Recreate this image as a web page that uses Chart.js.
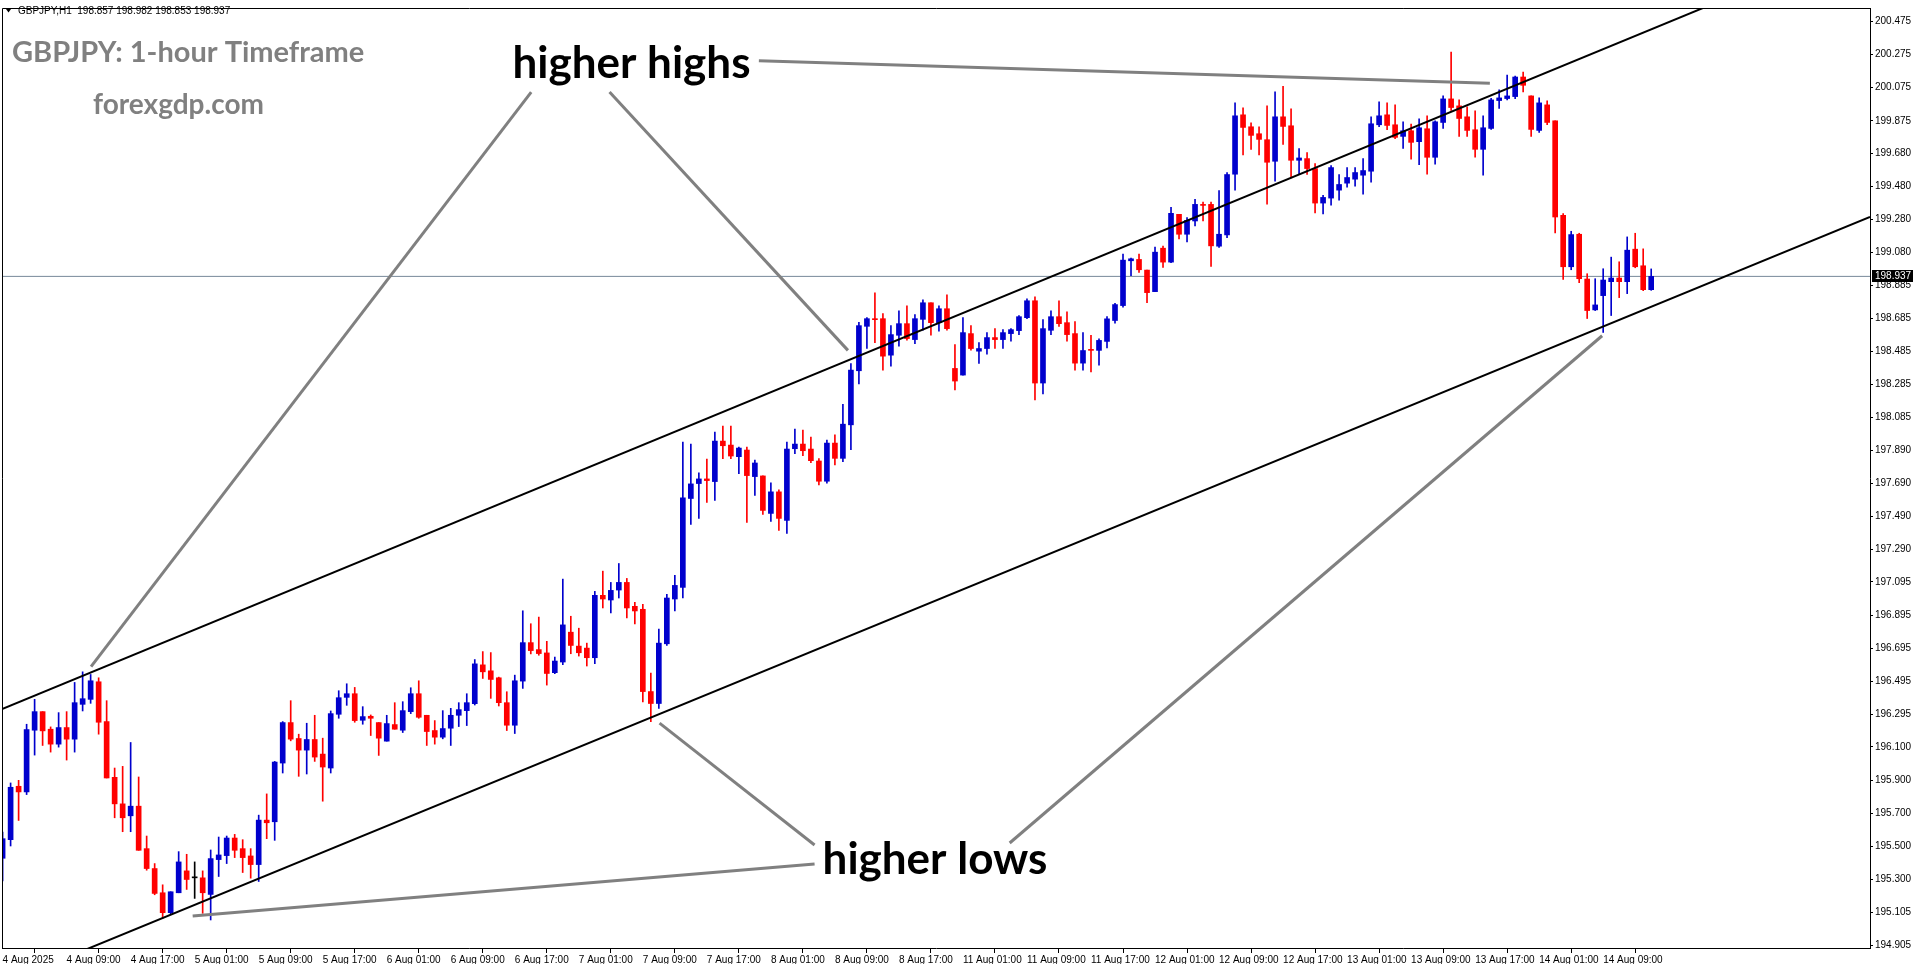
<!DOCTYPE html>
<html>
<head>
<meta charset="utf-8">
<title>GBPJPY H1</title>
<script src="https://cdn.jsdelivr.net/npm/chart.js@4.4.1/dist/chart.umd.min.js"></script>
<style>
  html, body { margin: 0; padding: 0; background: #fff; overflow: hidden; }
  canvas { display: block; }
</style>
</head>
<body>
<canvas id="chart" width="1916" height="964"></canvas>
<script>
// hourly candles, 4 Aug 2025 -> 14 Aug 2025
const opens = [
  195.429, 195.541, 195.863, 195.829, 196.201, 196.313, 196.207, 196.117, 196.217, 196.147,
  196.357, 196.387, 196.493, 196.253, 195.917, 195.757, 195.685, 195.743, 195.487, 195.367,
  195.221, 195.101, 195.221, 195.353, 195.311, 195.311, 195.211, 195.421, 195.445, 195.551,
  195.487, 195.443, 195.391, 195.659, 195.649, 196.003, 196.247, 196.151, 196.081, 196.145,
  196.057, 195.973, 196.297, 196.399, 196.421, 196.261, 196.285, 196.247, 196.135, 196.235,
  196.201, 196.313, 196.421, 196.291, 196.199, 196.159, 196.213, 196.291, 196.319, 196.361,
  196.595, 196.559, 196.517, 196.367, 196.231, 196.497, 196.729, 196.687, 196.667, 196.548,
  196.612, 196.792, 196.708, 196.696, 196.638, 197.014, 196.986, 197.046, 197.092, 196.948,
  196.930, 196.434, 196.362, 196.722, 196.992, 197.062, 197.598, 197.688, 197.716, 197.700,
  197.944, 197.920, 197.850, 197.890, 197.730, 197.734, 197.508, 197.638, 197.466, 197.898,
  197.926, 197.896, 197.824, 197.702, 197.932, 197.840, 198.042, 198.368, 198.636, 198.682,
  198.682, 198.462, 198.582, 198.652, 198.556, 198.678, 198.778, 198.658, 198.742, 198.382,
  198.342, 198.592, 198.486, 198.502, 198.568, 198.556, 198.592, 198.610, 198.688, 198.790,
  198.294, 198.612, 198.694, 198.658, 198.592, 198.414, 198.497, 198.491, 198.545, 198.671,
  198.761, 199.031, 199.039, 198.975, 198.845, 199.107, 199.023, 199.311, 199.191, 199.271,
  199.371, 199.371, 199.119, 199.187, 199.553, 199.911, 199.839, 199.797, 199.761, 199.631,
  199.899, 199.845, 199.637, 199.647, 199.587, 199.379, 199.409, 199.457, 199.499, 199.523,
  199.547, 199.571, 199.851, 199.911, 199.851, 199.781, 199.815, 199.749, 199.827, 199.655,
  199.865, 200.007, 199.965, 199.899, 199.821, 199.703, 199.829, 199.997, 200.009, 200.021,
  200.139, 200.025, 199.817, 199.971, 199.875, 199.305, 198.995, 199.191, 198.921, 198.735,
  198.821, 198.905, 198.927, 198.905, 199.101, 199.001, 198.857
];
const highs = [
  195.587, 195.883, 195.899, 196.237, 196.387, 196.313, 196.221, 196.307, 196.313, 196.489,
  196.553, 196.537, 196.517, 196.379, 195.973, 195.983, 196.127, 195.919, 195.563, 195.397,
  195.269, 195.227, 195.469, 195.453, 195.407, 195.353, 195.479, 195.557, 195.563, 195.573,
  195.541, 195.487, 195.689, 195.817, 196.013, 196.253, 196.379, 196.177, 196.243, 196.291,
  196.153, 196.317, 196.439, 196.481, 196.459, 196.343, 196.293, 196.247, 196.291, 196.367,
  196.373, 196.457, 196.499, 196.291, 196.259, 196.319, 196.333, 196.367, 196.421, 196.627,
  196.675, 196.669, 196.521, 196.433, 196.533, 196.921, 196.843, 196.883, 196.737, 196.642,
  197.112, 196.888, 196.816, 196.726, 197.038, 197.160, 197.092, 197.206, 197.116, 196.972,
  196.960, 196.546, 196.810, 197.020, 197.134, 197.938, 197.926, 197.752, 197.836, 197.998,
  198.034, 198.034, 197.908, 197.908, 197.830, 197.734, 197.692, 197.650, 197.938, 198.016,
  198.010, 197.968, 197.838, 197.950, 197.982, 198.166, 198.412, 198.660, 198.688, 198.838,
  198.712, 198.640, 198.730, 198.760, 198.706, 198.796, 198.778, 198.760, 198.826, 198.526,
  198.688, 198.640, 198.538, 198.598, 198.622, 198.616, 198.622, 198.700, 198.802, 198.814,
  198.676, 198.730, 198.790, 198.724, 198.664, 198.598, 198.581, 198.561, 198.695, 198.775,
  199.071, 199.047, 199.071, 198.975, 199.113, 199.119, 199.353, 199.311, 199.291, 199.401,
  199.385, 199.385, 199.455, 199.563, 199.983, 199.953, 199.863, 199.839, 199.965, 200.049,
  200.083, 199.947, 199.707, 199.683, 199.617, 199.425, 199.605, 199.551, 199.593, 199.593,
  199.647, 199.899, 199.989, 199.983, 199.971, 199.869, 199.855, 199.887, 199.905, 199.875,
  200.025, 200.289, 200.001, 199.959, 199.935, 199.905, 200.011, 200.061, 200.151, 200.145,
  200.169, 200.025, 200.013, 199.995, 199.875, 199.315, 199.209, 199.197, 198.953, 198.923,
  198.983, 199.053, 199.025, 199.175, 199.197, 199.103, 198.982
];
const lows = [
  195.293, 195.503, 195.657, 195.813, 196.051, 196.109, 196.069, 196.099, 196.021, 196.069,
  196.317, 196.363, 196.177, 195.913, 195.673, 195.589, 195.589, 195.477, 195.357, 195.209,
  195.067, 195.093, 195.221, 195.241, 195.187, 195.097, 195.057, 195.319, 195.397, 195.433,
  195.343, 195.309, 195.289, 195.547, 195.537, 195.943, 196.137, 195.923, 195.937, 196.013,
  195.773, 195.943, 196.273, 196.351, 196.249, 196.237, 196.169, 196.049, 196.135, 196.207,
  196.187, 196.301, 196.273, 196.109, 196.117, 196.149, 196.109, 196.223, 196.229, 196.353,
  196.513, 196.393, 196.347, 196.199, 196.181, 196.453, 196.661, 196.653, 196.473, 196.542,
  196.596, 196.662, 196.648, 196.588, 196.602, 196.938, 196.908, 196.998, 196.878, 196.842,
  196.372, 196.252, 196.332, 196.712, 196.920, 196.998, 197.442, 197.478, 197.574, 197.586,
  197.838, 197.838, 197.748, 197.454, 197.616, 197.502, 197.460, 197.406, 197.388, 197.868,
  197.856, 197.814, 197.680, 197.690, 197.800, 197.820, 197.892, 198.288, 198.502, 198.538,
  198.372, 198.396, 198.516, 198.552, 198.532, 198.612, 198.582, 198.606, 198.612, 198.252,
  198.342, 198.492, 198.412, 198.468, 198.502, 198.502, 198.546, 198.586, 198.682, 198.192,
  198.228, 198.586, 198.636, 198.546, 198.372, 198.372, 198.361, 198.401, 198.505, 198.655,
  198.751, 198.941, 198.961, 198.779, 198.845, 198.991, 199.019, 199.163, 199.145, 199.241,
  199.271, 198.997, 199.111, 199.171, 199.457, 199.669, 199.703, 199.669, 199.373, 199.511,
  199.733, 199.531, 199.551, 199.551, 199.319, 199.313, 199.367, 199.397, 199.475, 199.481,
  199.433, 199.505, 199.839, 199.821, 199.767, 199.709, 199.643, 199.611, 199.553, 199.613,
  199.829, 199.937, 199.781, 199.781, 199.655, 199.547, 199.823, 199.949, 200.001, 200.009,
  200.049, 199.781, 199.805, 199.851, 199.199, 198.919, 198.977, 198.899, 198.683, 198.731,
  198.599, 198.701, 198.809, 198.833, 198.989, 198.851, 198.853
];
const closes = [
  195.547, 195.857, 195.829, 196.205, 196.313, 196.197, 196.117, 196.217, 196.147, 196.367,
  196.391, 196.499, 196.249, 195.913, 195.757, 195.673, 195.743, 195.477, 195.367, 195.217,
  195.101, 195.227, 195.407, 195.301, 195.311, 195.221, 195.427, 195.449, 195.551, 195.477,
  195.433, 195.391, 195.659, 195.643, 196.009, 196.247, 196.147, 196.081, 196.145, 196.039,
  195.979, 196.301, 196.397, 196.421, 196.259, 196.283, 196.273, 196.153, 196.241, 196.207,
  196.319, 196.421, 196.279, 196.193, 196.159, 196.211, 196.291, 196.325, 196.367, 196.601,
  196.553, 196.507, 196.367, 196.231, 196.499, 196.729, 196.681, 196.663, 196.543, 196.618,
  196.836, 196.712, 196.668, 196.638, 197.014, 196.992, 197.044, 197.092, 196.938, 196.920,
  196.434, 196.362, 196.726, 196.998, 197.074, 197.602, 197.686, 197.716, 197.706, 197.944,
  197.916, 197.854, 197.902, 197.736, 197.812, 197.526, 197.638, 197.478, 197.896, 197.926,
  197.886, 197.826, 197.702, 197.932, 197.840, 198.046, 198.372, 198.640, 198.682, 198.676,
  198.456, 198.586, 198.652, 198.562, 198.682, 198.778, 198.658, 198.742, 198.622, 198.306,
  198.598, 198.502, 198.502, 198.568, 198.556, 198.598, 198.616, 198.694, 198.790, 198.294,
  198.622, 198.694, 198.652, 198.586, 198.414, 198.490, 198.491, 198.551, 198.681, 198.767,
  199.035, 199.043, 198.977, 198.839, 199.083, 199.023, 199.317, 199.191, 199.275, 199.371,
  199.365, 199.121, 199.191, 199.551, 199.905, 199.835, 199.787, 199.763, 199.625, 199.899,
  199.841, 199.637, 199.651, 199.587, 199.379, 199.413, 199.593, 199.491, 199.533, 199.563,
  199.575, 199.857, 199.905, 199.847, 199.775, 199.815, 199.745, 199.833, 199.655, 199.869,
  200.007, 199.955, 199.889, 199.817, 199.703, 199.833, 200.001, 200.013, 200.025, 200.139,
  200.089, 199.823, 199.983, 199.865, 199.295, 198.995, 199.189, 198.923, 198.731, 198.765,
  198.915, 198.927, 198.905, 199.095, 198.995, 198.857, 198.937
];

// one time label every 8 bars
const timeLabels = [
  '4 Aug 2025', '4 Aug 09:00', '4 Aug 17:00', '5 Aug 01:00', '5 Aug 09:00', '5 Aug 17:00',
  '6 Aug 01:00', '6 Aug 09:00', '6 Aug 17:00', '7 Aug 01:00', '7 Aug 09:00', '7 Aug 17:00',
  '8 Aug 01:00', '8 Aug 09:00', '8 Aug 17:00', '11 Aug 01:00', '11 Aug 09:00', '11 Aug 17:00',
  '12 Aug 01:00', '12 Aug 09:00', '12 Aug 17:00', '13 Aug 01:00', '13 Aug 09:00', '13 Aug 17:00',
  '14 Aug 01:00', '14 Aug 09:00'
];
const labelEvery = 8;

const priceTicks = [
  200.475, 200.275, 200.075, 199.875, 199.680, 199.480, 199.280, 199.080, 198.885, 198.685,
  198.485, 198.285, 198.085, 197.890, 197.690, 197.490, 197.290, 197.095, 196.895, 196.695,
  196.495, 196.295, 196.100, 195.900, 195.700, 195.500, 195.300, 195.105, 194.905
];

// channel lines and the grey pointer lines, as (bar index, price)
const upperChannel = [{ x: -0.075, y: 196.328 }, { x: 233.34, y: 200.970 }];
const lowerChannel = [{ x: -0.075, y: 194.671 }, { x: 233.34, y: 199.296 }];
const pointerLines = [
  [{ x: 66.05, y: 200.048 }, { x: 11.05, y: 196.584 }],
  [{ x: 75.84, y: 200.048 }, { x: 105.63, y: 198.491 }],
  [{ x: 94.5, y: 200.237 }, { x: 185.84, y: 200.102 }],
  [{ x: 101.46, y: 195.509 }, { x: 82.09, y: 196.244 }],
  [{ x: 101.46, y: 195.395 }, { x: 23.75, y: 195.081 }],
  [{ x: 125.84, y: 195.521 }, { x: 199.87, y: 198.579 }]
];
const notes = [
  { text: 'higher highs', x: 63.71, y: 200.131 },
  { text: 'higher lows', x: 102.46, y: 195.337 }
];

const xMin = -0.075, xMax = 233.34;
const yMin = 194.888, yMax = 200.555;
const last = closes.length - 1;
const lastPrice = closes[last];

const BULL = '#0000cd', BEAR = '#ff0000', DOJI = '#000000';
const barColors = opens.map((o, i) => closes[i] > o ? BULL : (closes[i] < o ? BEAR : DOJI));
const axisFont = { family: '"Liberation Sans", Arial, sans-serif', size: 10 };

const datasets = [
  {
    type: 'line',
    data: [{ x: xMin, y: lastPrice }, { x: xMax, y: lastPrice }],
    borderColor: '#778899', borderWidth: 1, pointRadius: 0, order: 6
  },
  {
    type: 'bar',
    data: opens.map((_, i) => ({ x: i, y: [lows[i], highs[i]] })),
    backgroundColor: barColors, barThickness: 1, grouped: false, order: 5
  },
  {
    type: 'bar',
    data: opens.map((o, i) => ({ x: i, y: [o, closes[i]] })),
    backgroundColor: barColors, barThickness: 5, minBarLength: 1, grouped: false, order: 4
  },
  { type: 'line', data: upperChannel, borderColor: '#000', borderWidth: 2, pointRadius: 0, order: 3 },
  { type: 'line', data: lowerChannel, borderColor: '#000', borderWidth: 2, pointRadius: 0, order: 3 }
];
pointerLines.forEach(seg => {
  datasets.push({ type: 'line', data: seg, borderColor: '#808080', borderWidth: 3, pointRadius: 0, order: 2 });
});

const overlay = {
  id: 'overlay',
  afterDraw(chart) {
    const { ctx, chartArea: a, scales: { x, y } } = chart;
    ctx.save();
    // frame top / left
    ctx.strokeStyle = '#000';
    ctx.lineWidth = 1;
    ctx.beginPath();
    ctx.moveTo(a.left + 0.5, a.bottom);
    ctx.lineTo(a.left + 0.5, a.top + 0.5);
    ctx.lineTo(a.right, a.top + 0.5);
    ctx.stroke();

    // header line
    ctx.fillStyle = '#000';
    ctx.beginPath();
    ctx.moveTo(6, 9); ctx.lineTo(11, 9); ctx.lineTo(8.5, 12.5); ctx.closePath();
    ctx.fill();
    ctx.font = '10px ' + axisFont.family;
    ctx.textBaseline = 'middle';
    ctx.fillText('GBPJPY,H1  198.857 198.982 198.853 198.937', 18, 11);

    // watermark texts
    ctx.fillStyle = '#808080';
    ctx.textBaseline = 'alphabetic';
    ctx.font = 'bold 29px Lato, "Open Sans", sans-serif';
    ctx.fillText('GBPJPY: 1-hour Timeframe', 12, 62);
    ctx.font = 'bold 28px Lato, "Open Sans", sans-serif';
    ctx.fillText('forexgdp.com', 93, 114);

    // notes
    ctx.fillStyle = '#000';
    ctx.font = 'bold 44px Lato, "Open Sans", sans-serif';
    notes.forEach(n => ctx.fillText(n.text, x.getPixelForValue(n.x), y.getPixelForValue(n.y)));

    // current price tag
    const py = Math.round(y.getPixelForValue(lastPrice));
    ctx.fillStyle = '#000';
    ctx.fillRect(a.right + 2, py - 6, 41, 12);
    ctx.fillStyle = '#fff';
    ctx.font = '10px ' + axisFont.family;
    ctx.textBaseline = 'middle';
    ctx.fillText(lastPrice.toFixed(3), a.right + 5, py + 0.5);
    ctx.restore();
  }
};

new Chart(document.getElementById('chart'), {
  type: 'bar',
  data: { datasets },
  options: {
    responsive: false,
    animation: false,
    events: [],
    layout: { padding: { left: 2, top: 2, right: 0, bottom: 0 } },
    plugins: { legend: { display: false }, tooltip: { enabled: false } },
    scales: {
      x: {
        type: 'linear',
        min: xMin, max: xMax,
        offset: false,
        afterBuildTicks: s => { s.ticks = timeLabels.map((_, k) => ({ value: k * labelEvery })); },
        afterFit: s => { s.height = 16; },
        ticks: {
          callback: (v, i) => timeLabels[i],
          align: 'start', maxRotation: 0, autoSkip: false,
          font: axisFont, color: '#000', padding: 1
        },
        grid: { drawOnChartArea: false, tickLength: 5, color: '#000' },
        border: { color: '#000' }
      },
      y: {
        type: 'linear',
        position: 'right',
        min: yMin, max: yMax,
        afterBuildTicks: s => { s.ticks = priceTicks.map(v => ({ value: v })); },
        afterFit: s => { s.width = 46; },
        ticks: { callback: v => v.toFixed(3), font: axisFont, color: '#000', padding: 2 },
        grid: { drawOnChartArea: false, tickLength: 3, color: '#000' },
        border: { color: '#000' }
      }
    }
  },
  plugins: [overlay]
});
</script>
</body>
</html>
